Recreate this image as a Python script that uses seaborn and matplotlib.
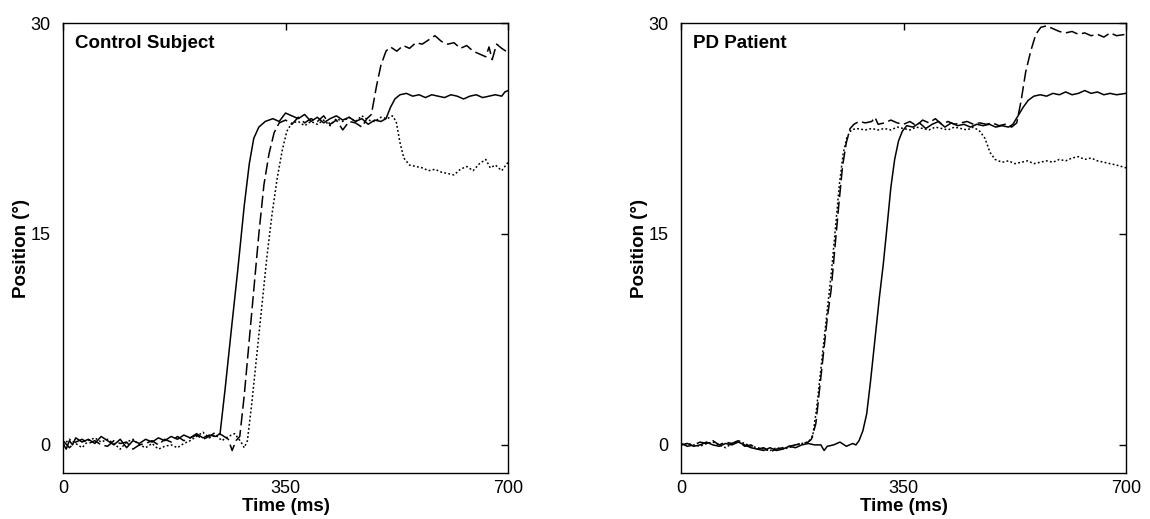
import matplotlib
matplotlib.use("Agg")
import matplotlib.pyplot as plt
import seaborn as sns
import pandas as pd

# ---------------- data ----------------
x_ticks = [0, 350, 700]
y_ticks = [0, 15, 30]
panel_titles = ["Control Subject", "PD Patient"]

# Control subject – solid trace
ctrl_solid_t = [0, 5, 10, 15, 20, 30, 40, 50, 60, 70, 80, 90, 100, 110, 120, 130, 140, 150, 160, 170,
                180, 190, 200, 210, 220, 230, 240, 247, 255, 265, 275, 285, 293, 300, 308, 318, 330,
                340, 350, 360, 370, 380, 390, 400, 410, 420, 430, 440, 450, 460, 470, 480, 490, 500,
                508, 515, 522, 530, 540, 550, 560, 570, 580, 590, 600, 610, 620, 630, 640, 650, 660,
                670, 680, 690, 695, 700]
ctrl_solid_y = [0.1, -0.3, 0.3, 0.0, 0.5, 0.2, 0.4, 0.1, 0.6, 0.3, 0.0, 0.4, -0.2, 0.3, 0.1, 0.4, 0.2,
                0.5, 0.3, 0.6, 0.4, 0.7, 0.5, 0.8, 0.5, 0.7, 0.6, 0.8, 4.0, 8.3, 12.5, 17.0, 20.0, 21.8,
                22.6, 23.0, 23.2, 23.0, 23.6, 23.4, 23.2, 23.5, 23.0, 23.3, 22.9, 23.2, 23.4, 23.1, 23.3,
                23.0, 23.2, 22.8, 23.1, 23.0, 23.2, 24.0, 24.6, 24.9, 25.0, 24.8, 24.9, 24.7, 24.9, 24.8,
                24.7, 24.9, 24.8, 24.6, 24.8, 24.9, 24.7, 24.8, 24.9, 24.8, 25.1, 25.2]

# Control subject – dashed trace
ctrl_dash_t = [0, 10, 20, 30, 40, 50, 60, 70, 80, 90, 100, 110, 120, 130, 140, 150, 160, 170, 180, 190,
               200, 210, 220, 230, 240, 250, 260, 266, 272, 278, 285, 293, 300, 308, 316, 324, 332, 340,
               350, 360, 370, 380, 390, 400, 410, 420, 430, 440, 450, 460, 470, 478, 485, 493, 500, 508,
               515, 525, 535, 545, 555, 565, 575, 585, 595, 605, 615, 625, 635, 645, 655, 665, 670, 675,
               682, 690, 700]
ctrl_dash_y = [0.3, -0.2, 0.2, 0.4, 0.1, 0.3, 0.0, -0.1, 0.3, 0.1, 0.2, -0.3, 0.0, 0.1, 0.3, 0.0, 0.4,
               0.2, 0.6, 0.3, 0.5, 0.7, 0.4, 0.6, 0.9, 0.7, 0.4, -0.4, 0.3, 0.6, 3.5, 7.5, 11.0, 15.0,
               18.5, 20.7, 22.2, 22.9, 23.1, 22.8, 23.3, 22.9, 23.2, 23.0, 23.4, 22.8, 23.1, 22.4, 23.0,
               22.9, 22.6, 23.2, 23.5, 25.5, 27.0, 28.0, 28.3, 28.0, 28.4, 28.2, 28.6, 28.5, 28.8, 29.1,
               28.7, 28.5, 28.6, 28.2, 28.4, 28.0, 27.8, 27.6, 28.3, 27.4, 28.5, 28.2, 27.9]

# Control subject – dotted trace
ctrl_dot_t = [0, 10, 20, 30, 40, 50, 60, 70, 80, 90, 100, 110, 120, 130, 140, 150, 160, 170, 180, 190,
              200, 210, 220, 230, 240, 250, 260, 270, 280, 285, 290, 297, 305, 313, 321, 329, 337, 345,
              352, 360, 370, 380, 390, 400, 410, 420, 430, 440, 450, 460, 470, 480, 490, 500, 510, 518,
              524, 530, 536, 545, 555, 565, 575, 585, 595, 605, 615, 625, 635, 645, 655, 665, 672, 680,
              690, 700]
ctrl_dot_y = [0.0, 0.4, 0.1, -0.2, 0.3, 0.5, 0.2, 0.4, 0.1, -0.3, 0.2, 0.4, 0.0, -0.2, 0.1, -0.3, -0.1,
              0.0, -0.2, 0.1, 0.3, 0.6, 0.9, 0.5, 0.7, 0.3, 0.6, 0.8, 0.2, -0.2, 0.3, 3.0, 6.5, 10.0,
              13.5, 16.5, 19.0, 21.0, 22.3, 22.9, 23.0, 22.7, 23.0, 22.8, 23.1, 22.7, 23.2, 23.0, 23.3,
              23.0, 23.4, 23.1, 23.0, 23.3, 23.2, 23.4, 23.0, 21.5, 20.4, 19.9, 19.8, 19.7, 19.5, 19.6,
              19.4, 19.3, 19.2, 19.6, 19.8, 19.5, 20.0, 20.3, 19.7, 19.9, 19.5, 20.1]

# PD patient – solid trace
pd_solid_t = [0, 10, 20, 30, 40, 50, 60, 70, 80, 90, 100, 110, 120, 130, 140, 150, 160, 170, 180, 190,
              200, 210, 220, 225, 230, 240, 250, 260, 270, 275, 280, 286, 292, 298, 305, 312, 318, 324,
              330, 336, 342, 348, 355, 365, 375, 385, 395, 405, 415, 425, 435, 445, 455, 465, 475, 485,
              495, 505, 515, 522, 530, 538, 546, 555, 565, 575, 585, 595, 605, 615, 625, 635, 645, 655,
              665, 675, 685, 700]
pd_solid_y = [0.0, 0.1, -0.1, 0.0, 0.2, 0.0, -0.1, 0.1, 0.0, 0.2, 0.0, -0.2, -0.3, -0.4, -0.2, -0.4,
              -0.3, -0.1, -0.2, 0.0, 0.1, 0.0, 0.0, -0.4, -0.1, 0.0, 0.2, -0.1, 0.1, 0.0, 0.3, 1.0, 2.2,
              4.5, 7.5, 10.5, 12.8, 15.5, 18.3, 20.3, 21.6, 22.3, 22.7, 22.6, 22.9, 22.5, 22.8, 23.0,
              22.6, 22.9, 22.7, 22.8, 22.6, 22.8, 22.7, 22.8, 22.6, 22.7, 22.6, 22.8, 23.4, 24.0, 24.5,
              24.8, 24.9, 24.8, 25.0, 24.9, 25.1, 24.9, 25.0, 25.2, 25.0, 25.1, 24.9, 25.0, 24.9, 25.0]

# PD patient – dashed trace
pd_dash_t = [0, 10, 20, 30, 40, 50, 60, 70, 80, 90, 100, 110, 120, 130, 140, 150, 160, 170, 180, 190,
             200, 205, 212, 218, 224, 230, 236, 242, 248, 254, 260, 266, 272, 280, 290, 300, 305, 310,
             320, 330, 340, 350, 360, 370, 380, 390, 400, 410, 420, 430, 440, 450, 460, 470, 480, 490,
             500, 510, 520, 528, 535, 542, 550, 558, 566, 575, 585, 595, 605, 615, 625, 635, 645, 655,
             665, 675, 685, 700]
pd_dash_y = [0.1, -0.1, 0.0, 0.2, 0.1, 0.3, 0.0, 0.2, 0.1, 0.3, -0.1, 0.0, -0.3, -0.2, -0.5, -0.3, -0.2,
             -0.1, 0.0, 0.1, 0.2, 0.4, 1.5, 4.0, 6.5, 9.0, 11.0, 14.0, 17.0, 19.8, 21.5, 22.5, 22.8,
             23.0, 22.9, 23.0, 23.3, 22.8, 22.9, 23.1, 22.9, 22.8, 23.0, 22.7, 23.1, 22.9, 23.2, 22.8,
             23.0, 22.8, 22.9, 23.0, 22.8, 22.9, 22.8, 22.9, 22.7, 22.8, 22.6, 22.9, 24.5, 26.5, 28.0,
             29.2, 29.7, 29.8, 29.6, 29.4, 29.3, 29.4, 29.2, 29.3, 29.1, 29.2, 29.0, 29.3, 29.1, 29.2]

# PD patient – dotted trace
pd_dot_t = [0, 10, 20, 30, 40, 50, 60, 70, 80, 90, 100, 110, 120, 130, 140, 150, 160, 170, 180, 190,
            200, 207, 213, 219, 225, 231, 237, 243, 249, 255, 261, 268, 276, 290, 300, 310, 320, 330,
            340, 350, 360, 370, 380, 390, 400, 410, 420, 430, 440, 450, 460, 470, 478, 486, 494, 505,
            515, 525, 535, 545, 555, 565, 575, 585, 595, 605, 615, 625, 635, 645, 655, 665, 675, 685,
            700]
pd_dot_y = [0.0, 0.1, 0.0, -0.1, 0.1, 0.2, 0.0, -0.2, 0.1, 0.3, 0.1, -0.1, -0.2, -0.3, -0.4, -0.2, -0.3,
            -0.2, 0.0, 0.1, 0.2, 0.6, 2.5, 5.0, 7.5, 10.0, 12.5, 15.5, 18.5, 20.7, 21.9, 22.4, 22.5,
            22.4, 22.5, 22.4, 22.5, 22.4, 22.6, 22.5, 22.4, 22.6, 22.5, 22.4, 22.6, 22.5, 22.4, 22.6,
            22.5, 22.4, 22.6, 22.3, 21.8, 20.8, 20.3, 20.1, 20.2, 20.0, 20.1, 20.2, 20.0, 20.1, 20.2,
            20.1, 20.3, 20.2, 20.4, 20.5, 20.3, 20.4, 20.2, 20.1, 20.0, 19.9, 19.7]

panels = [
    [(ctrl_solid_t, ctrl_solid_y, "-"), (ctrl_dash_t, ctrl_dash_y, (0, (8, 3))),
     (ctrl_dot_t, ctrl_dot_y, (0, (1.2, 1.5)))],
    [(pd_solid_t, pd_solid_y, "-"), (pd_dash_t, pd_dash_y, (0, (8, 3))),
     (pd_dot_t, pd_dot_y, (0, (1.2, 1.5)))],
]

# ---------------- styling ----------------
sns.set_theme(style="white")
plt.rcParams["font.family"] = ["Liberation Sans", "DejaVu Sans"]
plt.rcParams["text.color"] = "black"
plt.rcParams["axes.labelcolor"] = "black"
plt.rcParams["xtick.color"] = "black"
plt.rcParams["ytick.color"] = "black"
plt.rcParams["xtick.direction"] = "in"
plt.rcParams["ytick.direction"] = "in"

fig = plt.figure(figsize=(11.5, 5.19), dpi=100)
axes_pos = [[0.0548, 0.0886, 0.387, 0.867], [0.5922, 0.0886, 0.387, 0.867]]

for pos, traces, title in zip(axes_pos, panels, panel_titles):
    ax = fig.add_axes(pos)
    for t, y, ls in traces:
        df = pd.DataFrame({"t": t, "y": y})
        sns.lineplot(data=df, x="t", y="y", ax=ax, color="black", linewidth=1.1,
                     linestyle=ls, estimator=None, sort=False)
    ax.set_xlim(0, 700)
    ax.set_ylim(-2, 30)
    ax.set_xticks(x_ticks)
    ax.set_yticks(y_ticks)
    ax.set_xticklabels([str(v) for v in x_ticks])
    ax.set_yticklabels([str(v) for v in y_ticks])
    ax.tick_params(axis="both", which="both", direction="in", length=5, width=1,
                   top=True, right=True, labelsize=13, colors="black", pad=5)
    ax.tick_params(axis="y", pad=9)
    for sp in ax.spines.values():
        sp.set_visible(True)
        sp.set_color("black")
        sp.set_linewidth(1.0)
    ax.set_xlabel("Time (ms)", fontsize=13.5, fontweight="bold", labelpad=1, color="black")
    ax.set_ylabel("Position (°)", fontsize=13.5, fontweight="bold", labelpad=0, color="black")
    ax.text(0.027, 0.944, title, transform=ax.transAxes, fontsize=13.5, color="black",
            fontweight="bold", ha="left", va="baseline")

fig.savefig("out.png", dpi=100, facecolor="white")
